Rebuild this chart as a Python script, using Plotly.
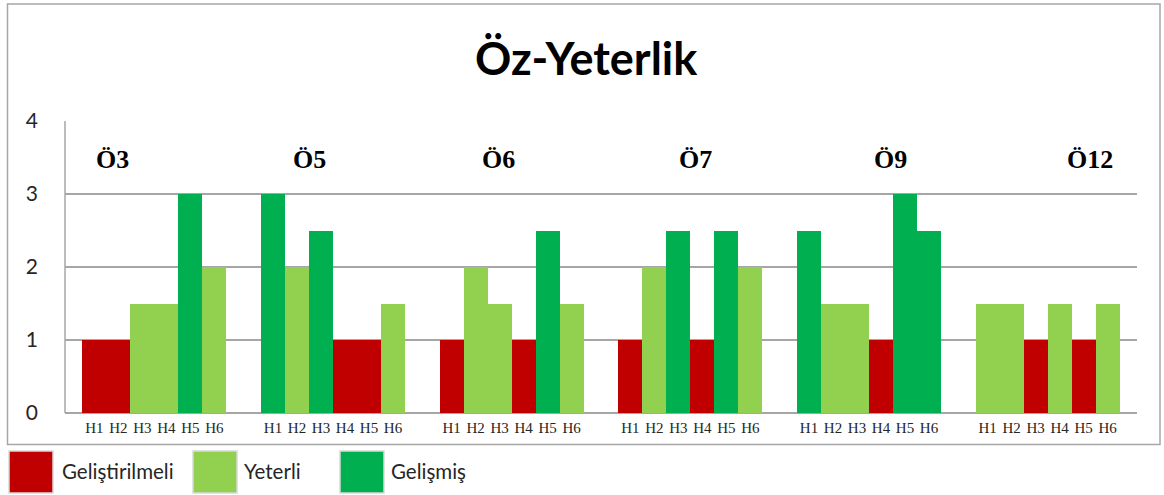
import plotly.graph_objects as go

# ---------------- data ----------------
groups = ["Ö3", "Ö5", "Ö6", "Ö7", "Ö9", "Ö12"]
items = ["H1", "H2", "H3", "H4", "H5", "H6"]
level_names = ["Geliştirilmeli", "Yeterli", "Gelişmiş"]

vals_o3 = [1, 1, 1.5, 1.5, 3, 2]
lvls_o3 = [0, 0, 1, 1, 2, 1]
vals_o5 = [3, 2, 2.5, 1, 1, 1.5]
lvls_o5 = [2, 1, 2, 0, 0, 1]
vals_o6 = [1, 2, 1.5, 1, 2.5, 1.5]
lvls_o6 = [0, 1, 1, 0, 2, 1]
vals_o7 = [1, 2, 2.5, 1, 2.5, 2]
lvls_o7 = [0, 1, 2, 0, 2, 1]
vals_o9 = [2.5, 1.5, 1.5, 1, 3, 2.5]
lvls_o9 = [2, 1, 1, 0, 2, 2]
vals_o12 = [1.5, 1.5, 1, 1.5, 1, 1.5]
lvls_o12 = [1, 1, 0, 1, 0, 1]

y_ticks = [0, 1, 2, 3, 4]

# ---------------- style / layout ----------------
colors = ["#C00000", "#92D050", "#00B050"]
W, H = 1164, 495
ML, MR, MT, MB = 65, 27, 121, 82
PW, PH = W - ML - MR, H - MT - MB

all_vals = [vals_o3, vals_o5, vals_o6, vals_o7, vals_o9, vals_o12]
all_lvls = [lvls_o3, lvls_o5, lvls_o6, lvls_o7, lvls_o9, lvls_o12]

G = PW / len(groups) / 24.0          # group width in bar units (bar px width 24)
pad = (G - len(items)) / 2.0

def xpos(g, i):
    return g * G + pad + i + 0.5

traces_x = {0: [], 1: [], 2: []}
traces_y = {0: [], 1: [], 2: []}
tickvals, ticktext = [], []
for g, (vs, ls) in enumerate(zip(all_vals, all_lvls)):
    for i, (v, l) in enumerate(zip(vs, ls)):
        traces_x[l].append(xpos(g, i))
        traces_y[l].append(v)
        tickvals.append(xpos(g, i))
        ticktext.append(items[i])

fig = go.Figure()
for l in range(3):
    fig.add_trace(go.Bar(
        x=traces_x[l], y=traces_y[l], width=1.0, name=level_names[l],
        marker=dict(color=colors[l], line=dict(width=0)),
        showlegend=False, hoverinfo="y+name"))

# helpers: screen pixel -> paper coords
def px_x(px):
    return (px - ML) / PW

def px_y(py):
    return (H - MB - py) / PH

shapes = []
annotations = []

# outer border
shapes.append(dict(type="rect", xref="paper", yref="paper",
                   x0=px_x(7.5), x1=px_x(1160), y0=px_y(444.5), y1=px_y(4),
                   line=dict(color="#A6A6A6", width=1.5), fillcolor="rgba(0,0,0,0)",
                   layer="below"))
# left axis line
shapes.append(dict(type="line", xref="paper", yref="paper",
                   x0=0, x1=0, y0=0, y1=1, line=dict(color="#A6A6A6", width=1.5)))

# group labels (positions as typed text line in the original)
label_px = [112, 309, 498, 695, 890, 1090]
for name, lx in zip(groups, label_px):
    annotations.append(dict(x=px_x(lx), y=px_y(159), xref="paper", yref="paper",
                            text="<b>%s</b>" % name, showarrow=False,
                            font=dict(family="Liberation Serif", size=26, color="#000000"),
                            xanchor="center", yanchor="middle"))

# custom legend
leg_sq = [(9, 53), (193, 237), (340, 384)]
leg_tx = [60, 242, 389]
for l in range(3):
    x0, x1 = leg_sq[l]
    shapes.append(dict(type="rect", xref="paper", yref="paper",
                       x0=px_x(x0), x1=px_x(x1), y0=px_y(493), y1=px_y(451),
                       line=dict(color="#D9D9D9", width=1.5), fillcolor=colors[l]))
    annotations.append(dict(x=px_x(leg_tx[l]), y=px_y(471), xref="paper", yref="paper",
                            text=level_names[l], showarrow=False,
                            font=dict(family="Lato", size=20.5, color="#262626"),
                            xanchor="left", yanchor="middle"))

# title
annotations.append(dict(x=px_x(586), y=px_y(58), xref="paper", yref="paper",
                        text="<b>Öz-Yeterlik</b>", showarrow=False,
                        font=dict(family="Lato", size=45, color="#000000"),
                        xanchor="center", yanchor="middle"))

fig.update_layout(
    width=W, height=H,
    margin=dict(l=ML, r=MR, t=MT, b=MB),
    paper_bgcolor="white", plot_bgcolor="white",
    bargap=0, showlegend=False,
    shapes=shapes, annotations=annotations,
    xaxis=dict(range=[0, len(groups) * G], tickvals=tickvals, ticktext=ticktext,
               tickangle=0, showgrid=False, zeroline=False, showline=False,
               ticks="", ticklabelstandoff=4,
               tickfont=dict(family="Liberation Serif", size=15, color="#262626"),
               fixedrange=True),
    yaxis=dict(range=[0, 4], tickvals=y_ticks, showgrid=True,
               gridcolor="#A6A6A6", gridwidth=1.5, zeroline=True,
               zerolinecolor="#A6A6A6", zerolinewidth=1.5, showline=False,
               ticks="", ticklabelstandoff=26,
               tickfont=dict(family="Lato", size=21, color="#262626"),
               fixedrange=True),
)

fig.write_html("out.html",
               config={"displayModeBar": False},
               post_script="document.body.style.margin='0px';document.body.style.overflow='hidden';")
